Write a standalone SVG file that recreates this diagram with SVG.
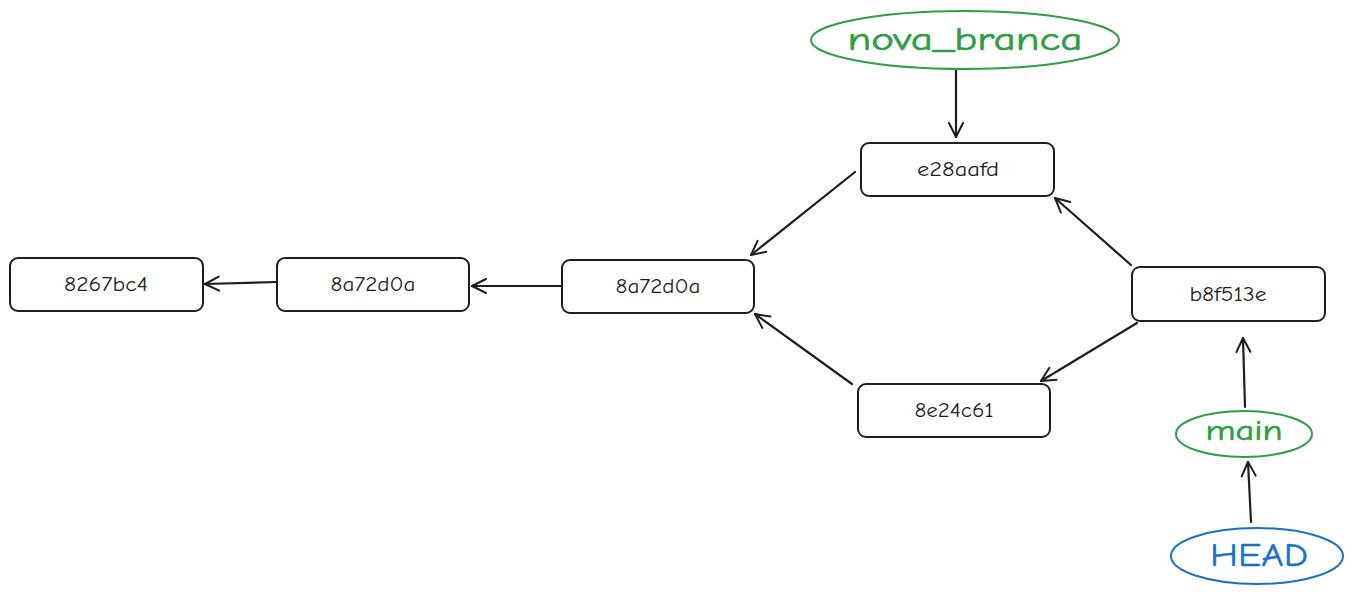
<svg xmlns="http://www.w3.org/2000/svg" width="1351" height="596" viewBox="0 0 1351 596">
<style>
.box{fill:#fff;stroke:#1e1e1e;stroke-width:2}
.lbl{font-family:"Comic Neue","Liberation Sans",sans-serif;font-size:20px;fill:#1e1e1e;text-anchor:middle;dominant-baseline:central}
.ref{fill:none;stroke:#2f9e44;stroke-width:2}
.reft{font-family:"Comic Neue","Liberation Sans",sans-serif;fill:#2f9e44;stroke:#2f9e44;stroke-width:0.6;text-anchor:middle;dominant-baseline:central}
.head{fill:none;stroke:#1971c2;stroke-width:2}
.headt{font-family:"Comic Neue","Liberation Sans",sans-serif;fill:#1971c2;stroke:#1971c2;stroke-width:0.4;text-anchor:middle;dominant-baseline:central}
.edge{fill:none;stroke:#1e1e1e;stroke-width:2.2;stroke-linecap:round;marker-end:url(#arr)}
</style>
<defs>
<marker id="arr" viewBox="0 0 20 20" refX="18" refY="10" markerWidth="20" markerHeight="20" markerUnits="userSpaceOnUse" orient="auto">
<path d="M4 3 L18 10 L4 17" fill="none" stroke="#1e1e1e" stroke-width="2" stroke-linecap="round" stroke-linejoin="round"/>
</marker>
</defs>
<g id="connectors">
<path class="edge" d="M276 282 L205 284"/>
<path class="edge" d="M561 286 L472 286"/>
<path class="edge" d="M855 172 L751 255"/>
<path class="edge" d="M852 384 L755 314"/>
<path class="edge" d="M1131 265 L1055 198"/>
<path class="edge" d="M1137 323 L1041 381"/>
<path class="edge" d="M956 70 L956 137"/>
<path class="edge" d="M1245 407 L1243 338"/>
<path class="edge" d="M1251 522 L1248 462"/>
</g>
<g id="n8267bc4"><rect class="box" x="10" y="258" width="193" height="53" rx="8"/><text class="lbl" x="106" y="284" textLength="84" lengthAdjust="spacingAndGlyphs">8267bc4</text></g>
<g id="n8a72d0a_1"><rect class="box" x="277" y="258" width="192" height="53" rx="8"/><text class="lbl" x="373" y="284" textLength="85" lengthAdjust="spacingAndGlyphs">8a72d0a</text></g>
<g id="n8a72d0a_2"><rect class="box" x="562" y="260" width="192" height="53" rx="8"/><text class="lbl" x="658" y="286" textLength="85" lengthAdjust="spacingAndGlyphs">8a72d0a</text></g>
<g id="ne28aafd"><rect class="box" x="861" y="143" width="193" height="53" rx="8"/><text class="lbl" x="958" y="169" textLength="82" lengthAdjust="spacingAndGlyphs">e28aafd</text></g>
<g id="n8e24c61"><rect class="box" x="858" y="384" width="192" height="53" rx="8"/><text class="lbl" x="954" y="410" textLength="79" lengthAdjust="spacingAndGlyphs">8e24c61</text></g>
<g id="nb8f513e"><rect class="box" x="1132" y="267" width="193" height="54" rx="8"/><text class="lbl" x="1228" y="294" textLength="77" lengthAdjust="spacingAndGlyphs">b8f513e</text></g>
<g id="nova_branca"><ellipse class="ref" cx="965" cy="40" rx="154" ry="29"/><text class="reft" x="965" y="39" font-size="33" textLength="235" lengthAdjust="spacingAndGlyphs">nova_branca</text></g>
<g id="main"><ellipse class="ref" cx="1244" cy="434" rx="68" ry="23"/><text class="reft" x="1244" y="431" font-size="28" textLength="77" lengthAdjust="spacingAndGlyphs">main</text></g>
<g id="HEAD"><ellipse class="head" cx="1257" cy="556" rx="86" ry="28"/><text class="headt" x="1259" y="555" font-size="33" textLength="98" lengthAdjust="spacingAndGlyphs">HEAD</text></g>
</svg>
